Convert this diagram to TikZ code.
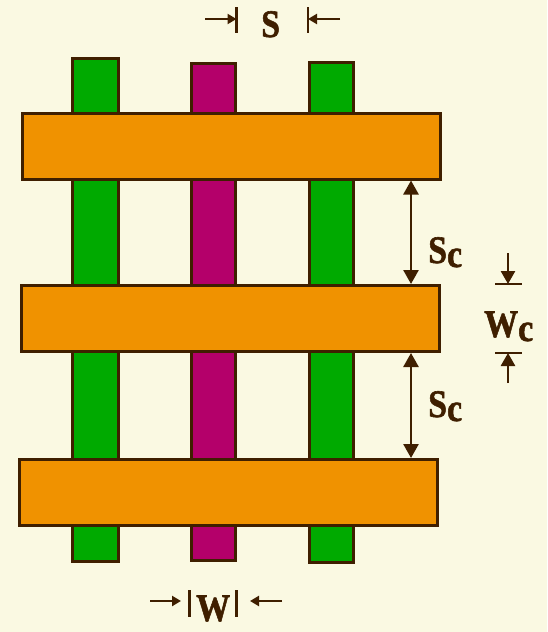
\documentclass[tikz,border=0pt]{standalone}
\usepackage{fontspec}
\usepackage{graphicx}
\setmainfont{Liberation Serif}[BoldFont={Liberation Serif Bold},BoldFeatures={FakeBold=1.5}]
\usetikzlibrary{arrows.meta}

\definecolor{bgcol}{HTML}{FAF9E2}
\definecolor{edgecol}{HTML}{3F1F00}
\definecolor{barorange}{HTML}{F09200}
\definecolor{wiregreen}{HTML}{00AA00}
\definecolor{wiremag}{HTML}{B4006A}

\newcommand*{\barw}{418}
\newcommand*{\barh}{66}
\newcommand*{\dimtxt}[2]{\scalebox{0.87}[1]{#1\raisebox{-4pt}{#2}}}

\begin{document}
\begin{tikzpicture}
[
	x=1pt, y=-1pt,
	wire/.style 2 args={draw=edgecol,line width=3pt,inner sep=0pt,minimum width=#1,minimum height=#2},
	metal/.style={draw=edgecol,line width=3pt,inner sep=0pt,fill=barorange,minimum width=\barw,minimum height=\barh},
	bigtip/.style={edgecol,line width=2.6pt,{Triangle[length=14pt,width=15pt]}-{Triangle[length=14pt,width=15pt]}},
	smalltip/.style={edgecol,line width=2.6pt,-{Triangle[length=9pt,width=10pt]}},
	midtip/.style={edgecol,line width=2.6pt,-{Triangle[length=13pt,width=14pt]}},
	tickln/.style={edgecol,line width=2.6pt},
	dimlbl/.style={text=edgecol,inner sep=0pt,anchor=base west,font=\fontsize{39}{39}\selectfont\bfseries}
]

	% background
	\fill[bgcol] (0,0) rectangle (547,632);
	\useasboundingbox (0,0) rectangle (547,632);

	% vertical wires
	\node[wire={46}{503},fill=wiregreen] (g1) at (95.5,310) {};
	\node[wire={44}{497},fill=wiremag] (m2) at (213,312) {};
	\node[wire={44}{500},fill=wiregreen] (g3) at (331.5,312.5) {};

	% horizontal bars
	\node[metal] (top) at (231.5,146) {};
	\node[metal] (mid) at (230.5,318.5) {};
	\node[metal] (bot) at (228.5,492.5) {};

	% spacing s
	\coordinate (sl) at (205,19);
	\coordinate (sr) at (340,19);
	\coordinate (stop) at (0,7);
	\coordinate (sbot) at (0,33);
	\draw[smalltip] (sl) -- (sl -| m2.east);
	\draw[smalltip] (sr) -- (sr -| g3.west);
	\draw[tickln] (stop -| m2.east) -- (sbot -| m2.east);
	\draw[tickln] (stop -| g3.west) -- (sbot -| g3.west);
	\node[dimlbl] (slbl) at (261,37) {\dimtxt{S}{}};

	% width w
	\coordinate (wl) at (150,601);
	\coordinate (wlt) at (181,601);
	\coordinate (wr) at (282,601);
	\coordinate (wrt) at (250,601);
	\coordinate (wtop) at (0,590);
	\coordinate (wbot) at (0,617);
	\draw[smalltip] (wl) -- (wlt);
	\draw[smalltip] (wr) -- (wrt);
	\draw[tickln] (wtop -| m2.west) -- (wbot -| m2.west);
	\draw[tickln] (wtop -| m2.east) -- (wbot -| m2.east);
	\node[dimlbl,text depth=0pt] (wlbl) at (196,621) {\dimtxt{W}{}};

	% spacing sc
	\coordinate (sc) at (411,0);
	\draw[bigtip] (top.south -| sc) -- (mid.north -| sc);
	\draw[bigtip] (mid.south -| sc) -- (bot.north -| sc);
	\node[dimlbl] (sclbl1) at (428,263) {\dimtxt{S}{c}};
	\node[dimlbl] (sclbl2) at (428,417) {\dimtxt{S}{c}};

	% width wc
	\coordinate (wcx) at (508,0);
	\coordinate (wca) at (508,253);
	\coordinate (wcb) at (508,383);
	\coordinate (wcl) at (495,0);
	\coordinate (wcr) at (522,0);
	\draw[midtip] (wca) -- (mid.north -| wcx);
	\draw[midtip] (wcb) -- (mid.south -| wcx);
	\draw[tickln] (mid.north -| wcl) -- (mid.north -| wcr);
	\draw[tickln] (mid.south -| wcl) -- (mid.south -| wcr);
	\node[dimlbl] (wclbl) at (484,337) {\dimtxt{W}{c}};

\end{tikzpicture}
\end{document}
